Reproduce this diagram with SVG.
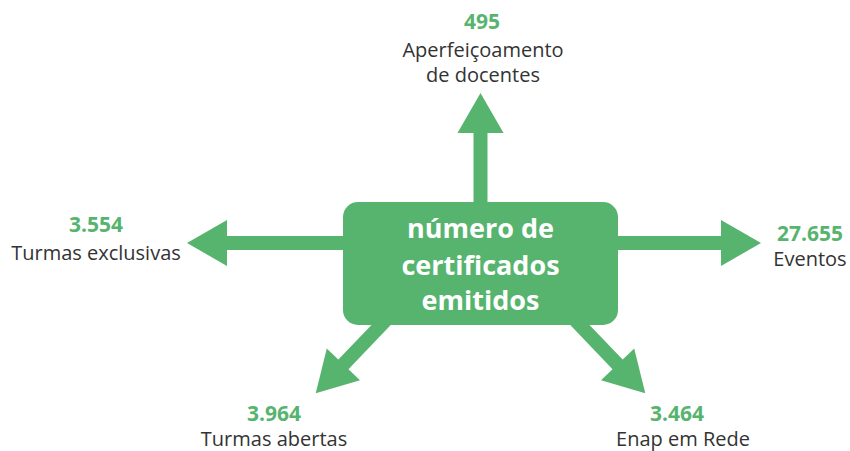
<svg xmlns="http://www.w3.org/2000/svg" width="850" height="451" viewBox="0 0 850 451">
<style>
.num{font-family:"Open Sans","Noto Sans","Liberation Sans",sans-serif;font-weight:700;font-size:21px;fill:#57b46f;text-anchor:middle}
.lbl{font-family:"Open Sans","Noto Sans","Liberation Sans",sans-serif;font-size:20px;fill:#333333;text-anchor:middle}
.ctr{font-family:"Open Sans","Noto Sans","Liberation Sans",sans-serif;font-weight:700;font-size:27px;fill:#ffffff;text-anchor:middle}
.shaft{stroke:#57b46f;stroke-width:14;fill:none;marker-end:url(#head)}
</style>
<defs>
<marker id="head" markerUnits="userSpaceOnUse" markerWidth="41" markerHeight="46" refX="1" refY="23" orient="auto" overflow="visible">
<path d="M0,0 L40,23 L0,46 Z" fill="#57b46f"/>
</marker>
</defs>
<rect width="850" height="451" fill="#ffffff"/>
<g id="connectors">
<line class="shaft" x1="480.5" y1="210" x2="480.5" y2="132"/>
<line class="shaft" x1="350" y1="243" x2="226" y2="243"/>
<line class="shaft" x1="610" y1="243" x2="722" y2="243"/>
<line class="shaft" x1="390.7" y1="315" x2="342.7" y2="365.1"/>
<line class="shaft" x1="570.3" y1="315" x2="618.3" y2="365.1"/>
</g>
<g id="center">
<rect x="343" y="202" width="275" height="123" rx="15" ry="15" fill="#57b46f"/>
<text class="ctr" x="480.5" y="238">número de</text>
<text class="ctr" x="480.5" y="275">certificados</text>
<text class="ctr" x="480.5" y="310">emitidos</text>
</g>
<g id="aperfeicoamento">
<text class="num" x="482" y="29">495</text>
<text class="lbl" x="483" y="57">Aperfeiçoamento</text>
<text class="lbl" x="483" y="82">de docentes</text>
</g>
<g id="turmas-exclusivas">
<text class="num" x="96" y="232">3.554</text>
<text class="lbl" x="96" y="260">Turmas exclusivas</text>
</g>
<g id="eventos">
<text class="num" x="810" y="241">27.655</text>
<text class="lbl" x="810" y="266">Eventos</text>
</g>
<g id="turmas-abertas">
<text class="num" x="274" y="421">3.964</text>
<text class="lbl" x="274" y="446">Turmas abertas</text>
</g>
<g id="enap-em-rede">
<text class="num" x="677" y="421">3.464</text>
<text class="lbl" x="683" y="446">Enap em Rede</text>
</g>
</svg>
